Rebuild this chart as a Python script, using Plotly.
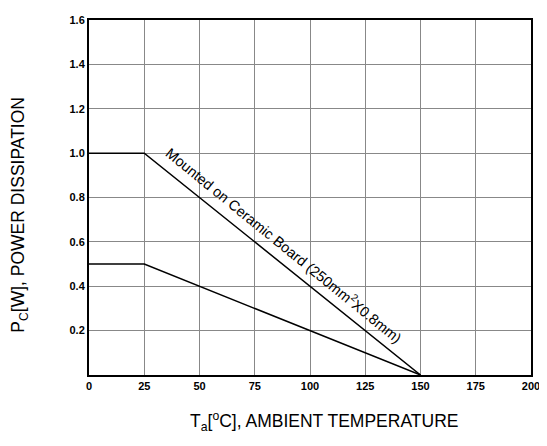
import plotly.graph_objects as go

# Data
temp_ceramic = [0, 25, 150]
power_ceramic = [1.0, 1.0, 0.0]
temp_free = [0, 25, 150]
power_free = [0.5, 0.5, 0.0]

x_ticks = [0, 25, 50, 75, 100, 125, 150, 175, 200]
y_ticks = [0.2, 0.4, 0.6, 0.8, 1.0, 1.2, 1.4, 1.6]
y_tick_labels = ["0.2", "0.4", "0.6", "0.8", "1.0", "1.2", "1.4", "1.6"]

label_text = "Mounted on Ceramic Board (250mm<sup>2</sup>X0.8mm)"
label_x = 88.5
label_y = 0.588

fig = go.Figure()
fig.add_trace(go.Scatter(x=temp_ceramic, y=power_ceramic, mode="lines",
                         line=dict(color="black", width=1.5), showlegend=False))
fig.add_trace(go.Scatter(x=temp_free, y=power_free, mode="lines",
                         line=dict(color="black", width=1.5), showlegend=False))

font_family = "Liberation Sans, Arial, sans-serif"

# page body has an 8px margin; figure is sized so that it fits the 547x446 window
fig.update_layout(
    width=539, height=430,
    margin=dict(l=81, r=16, t=6, b=63),
    paper_bgcolor="white", plot_bgcolor="white",
    font=dict(family=font_family, color="black"),
    xaxis=dict(range=[0, 200], tickvals=x_ticks, ticktext=[str(v) for v in x_ticks],
               showgrid=True, gridcolor="#888888", gridwidth=1.3,
               showline=True, linecolor="black", linewidth=2, mirror=True,
               zeroline=False, ticks="", ticklen=0, ticklabeloverflow="allow",
               tickfont=dict(family=font_family, size=11, weight="bold", color="black")),
    yaxis=dict(range=[0, 1.6], tickvals=y_ticks, ticktext=y_tick_labels,
               showgrid=True, gridcolor="#888888", gridwidth=1.3,
               showline=True, linecolor="black", linewidth=2, mirror=True,
               zeroline=False, ticks="", ticklen=0, ticklabeloverflow="allow",
               tickfont=dict(family=font_family, size=11, weight="bold", color="black")),
    annotations=[
        dict(text=label_text, x=label_x, y=label_y, xref="x", yref="y",
             textangle=39.2, showarrow=False,
             font=dict(family=font_family, size=14.5, color="black")),
        dict(text="T<sub>a</sub>[<sup>o</sup>C], AMBIENT TEMPERATURE",
             x=0.532, y=-0.172, xref="paper", yref="paper",
             xanchor="center", yanchor="bottom", showarrow=False,
             font=dict(family=font_family, size=17.5, color="black")),
        dict(text="P<sub>C</sub>[W], POWER DISSIPATION",
             x=-0.156, y=0.4515, xref="paper", yref="paper",
             xanchor="center", yanchor="middle", showarrow=False, textangle=-90,
             font=dict(family=font_family, size=17.5, color="black")),
    ],
)

fig.write_html("out.html")
